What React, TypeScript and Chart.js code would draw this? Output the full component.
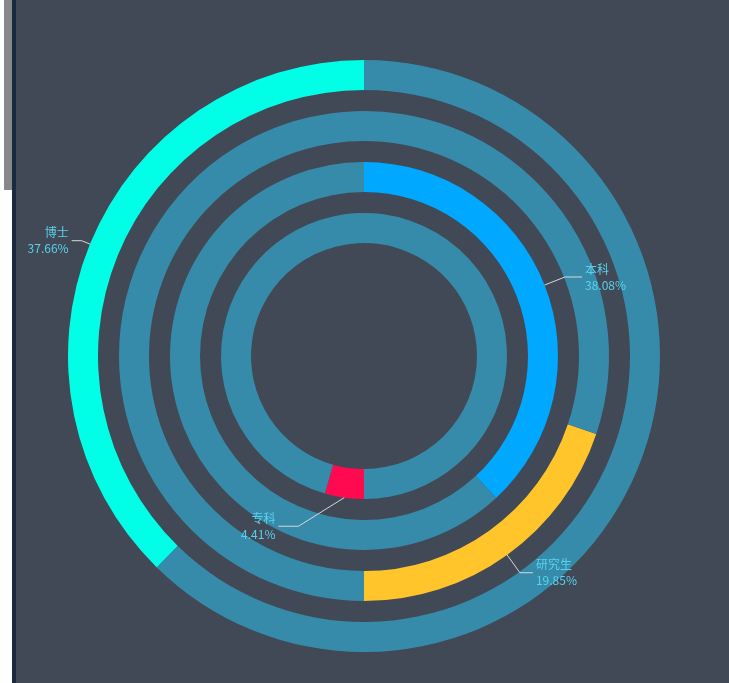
import React, { useEffect, useRef } from "react";
import { Chart, registerables } from "chart.js";

Chart.register(...registerables);

// Data (outer ring -> inner ring)
const categories = ["博士", "研究生", "本科", "专科"];
const percents = [37.66, 19.85, 38.08, 4.41];
const ringColors = ["#00FFE6", "#FFC52B", "#00A8FF", "#FF0A50"];
// where each coloured arc begins/ends
const arcAnchor = ["endsAtTop", "endsAtBottom", "startsAtTop", "startsAtBottom"];

const TRACK = "#378BAA";
const BG = "#414956";
const TEXT = "#58D2EE";

// label leader-line layout (px): first segment length, direction override (canvas deg, null = radial), second segment length
const leaderLen1 = [9, 22, 22, 54];
const leaderDir = [null, null, null, 148];
const leaderLen2 = [10, 13, 17, 20];

const RING_W = 30;
const GAP_W = 21;

function buildDatasets() {
  const ds: any[] = [];
  percents.forEach((p, i) => {
    const deg = (p / 100) * 360;
    let rotation = 0;
    if (arcAnchor[i] === "endsAtTop") rotation = 360 - deg;
    if (arcAnchor[i] === "endsAtBottom") rotation = 180 - deg;
    if (arcAnchor[i] === "startsAtTop") rotation = 0;
    if (arcAnchor[i] === "startsAtBottom") rotation = 180;
    ds.push({
      label: categories[i],
      data: [p, 100 - p],
      backgroundColor: [ringColors[i], TRACK],
      borderWidth: 0,
      hoverBorderWidth: 0,
      hoverOffset: 0,
      rotation,
      weight: RING_W,
    });
    if (i < percents.length - 1) {
      ds.push({
        label: "gap" + i,
        data: [1],
        backgroundColor: ["rgba(0,0,0,0)"],
        borderWidth: 0,
        hoverBorderWidth: 0,
        hoverOffset: 0,
        weight: GAP_W,
      });
    }
  });
  return ds;
}

const labelPlugin = {
  id: "leaderLabels",
  afterDraw(chart: any) {
    const ctx = chart.ctx;
    ctx.save();
    percents.forEach((p, i) => {
      const meta = chart.getDatasetMeta(i * 2);
      const arc: any = meta.data[0];
      if (!arc) return;
      const { x, y, startAngle, endAngle, outerRadius } = arc.getProps(
        ["x", "y", "startAngle", "endAngle", "outerRadius"],
        true
      );
      const mid = (startAngle + endAngle) / 2;
      const sx = x + Math.cos(mid) * outerRadius;
      const sy = y + Math.sin(mid) * outerRadius;
      let dirA = mid;
      if (leaderDir[i] !== null) {
        dirA = ((leaderDir[i] as number) * Math.PI) / 180;
      }
      const ex = sx + Math.cos(dirA) * leaderLen1[i];
      const ey = sy + Math.sin(dirA) * leaderLen1[i];
      const side = Math.cos(dirA) < 0 ? -1 : 1;
      const hx = ex + side * leaderLen2[i];
      ctx.strokeStyle = "#D8D8D8";
      ctx.lineWidth = 1;
      ctx.beginPath();
      ctx.moveTo(sx, sy);
      ctx.lineTo(ex, ey);
      ctx.lineTo(hx, ey);
      ctx.stroke();

      ctx.fillStyle = TEXT;
      ctx.font = '12px "Noto Sans CJK SC", "Microsoft YaHei", sans-serif';
      ctx.textAlign = side < 0 ? "right" : "left";
      ctx.textBaseline = "middle";
      const tx = hx + side * 3;
      ctx.fillText(categories[i], tx, ey - 8);
      ctx.fillText(p.toFixed(2) + "%", tx, ey + 8);
    });
    ctx.restore();
  },
};

export default function App() {
  const ref = useRef<HTMLCanvasElement | null>(null);
  useEffect(() => {
    if (!ref.current) return;
    const chart = new Chart(ref.current, {
      type: "doughnut",
      data: { labels: ["value", "rest"], datasets: buildDatasets() },
      options: {
        responsive: false,
        animation: false,
        cutout: 113,
        events: [],
        layout: { padding: { left: 52, right: 69, top: 60, bottom: 31 } },
        plugins: { legend: { display: false }, tooltip: { enabled: false } },
      } as any,
      plugins: [labelPlugin],
    });
    return () => chart.destroy();
  }, []);

  return (
    <div style={{ position: "fixed", left: 0, top: 0, width: 729, height: 683, background: "#ffffff", overflow: "hidden" }}>
      <div style={{ position: "absolute", left: 4, top: 0, width: 8, height: 190, background: "#888888" }} />
      <div style={{ position: "absolute", left: 12, top: 0, width: 4, height: 683, background: "#1C2A3F" }} />
      <div style={{ position: "absolute", left: 16, top: 0, width: 713, height: 683, background: BG }}>
        <canvas ref={ref} width={713} height={683} style={{ display: "block", width: 713, height: 683 }} />
      </div>
    </div>
  );
}
